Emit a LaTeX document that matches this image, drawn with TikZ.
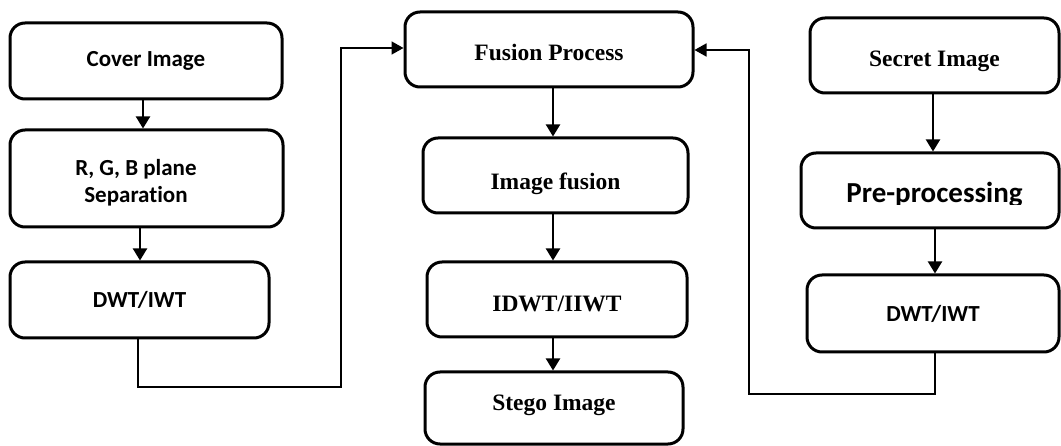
\documentclass[tikz,border=0pt]{standalone}
\usepackage{fontspec}
\setmainfont{Liberation Serif}
\newfontfamily\calfont[Ligatures=NoCommon]{Carlito}
\usetikzlibrary{arrows.meta}
\tikzset{
  box/.style={draw=black, line width=3pt, rounded corners=15pt, inner sep=0pt},
  calt/.style={font=\calfont\bfseries\fontsize{23}{27}\selectfont},
  timt/.style={font=\bfseries\fontsize{23.5}{27}\selectfont, text depth=0pt},
  arr/.style={line width=2pt, -{Triangle[width=14pt,length=12pt]}},
  conn/.style={line width=1.7pt, -{Triangle[width=13pt,length=12pt]}},
}
\begin{document}
\begin{tikzpicture}[x=1pt,y=-1pt]
\useasboundingbox (0,0) rectangle (1061,446);
% left column
\node[box, calt, minimum width=272pt, minimum height=76pt] (cover) at (146,61) {Cover Image};
\node[box, minimum width=273pt, minimum height=97pt] (rgb) at (146.5,178.5) {};
\node[calt, align=center] (rgbt) at (136,183) {R, G, B plane\\Separation};
\node[box, calt, minimum width=259pt, minimum height=76pt] (dwtL) at (139.5,300) {DWT/IWT};
% middle column
\node[box, timt, text height=23pt, minimum width=288pt, minimum height=75pt] (fusion) at (549,49.5) {Fusion Process};
\node[box, timt, text height=29pt, minimum width=265pt, minimum height=75pt] (imgfus) at (555.5,175.5) {Image fusion};
\node[box, timt, text height=25pt, minimum width=260pt, minimum height=75pt] (idwt) at (557,299.5) {IDWT/IIWT};
\node[box, timt, text height=5pt, minimum width=258pt, minimum height=72pt] (stego) at (554,408) {Stego Image};
% right column
\node[box, timt, text height=23pt, minimum width=249pt, minimum height=75pt] (secret) at (934.5,55.5) {Secret Image};
\node[box, minimum width=258pt, minimum height=75pt] (pre) at (930,190.5) {};
\begin{scope}
\clip (790,150) rectangle (1061,205);
\node[font=\calfont\bfseries\fontsize{29}{33}\selectfont, anchor=base] (pret) at (934.5,203) {Pre-processing};
\end{scope}
\node[box, calt, minimum width=252pt, minimum height=77pt] (dwtR) at (933,313.5) {DWT/IWT};
% x positions of vertical arrows
\coordinate (xa) at (143,0);
\coordinate (xb) at (140,0);
\coordinate (xc) at (553,0);
\coordinate (xd) at (933,0);
\coordinate (xe) at (935,0);
\coordinate (xf) at (138,0);
\draw[arr] (cover.south -| xa) -- (rgb.north -| xa);
\draw[arr] (rgb.south -| xb) -- (dwtL.north -| xb);
\draw[arr] (fusion.south -| xc) -- (imgfus.north -| xc);
\draw[arr] (imgfus.south -| xc) -- (idwt.north -| xc);
\draw[arr] (idwt.south -| xc) -- (stego.north -| xc);
\draw[arr] (secret.south -| xd) -- (pre.north -| xd);
\draw[arr] (pre.south -| xe) -- (dwtR.north -| xe);
% elbow connectors
\coordinate (cL) at (341,387);
\coordinate (cR) at (749,394);
\coordinate (yL) at (0,48);
\coordinate (yR) at (0,50);
\draw[conn] (dwtL.south -| xf) |- (cL) -- (cL |- yL) -- (fusion.west |- yL);
\draw[conn] (dwtR.south -| xe) |- (cR) -- (cR |- yR) -- (fusion.east |- yR);
\end{tikzpicture}
\end{document}
